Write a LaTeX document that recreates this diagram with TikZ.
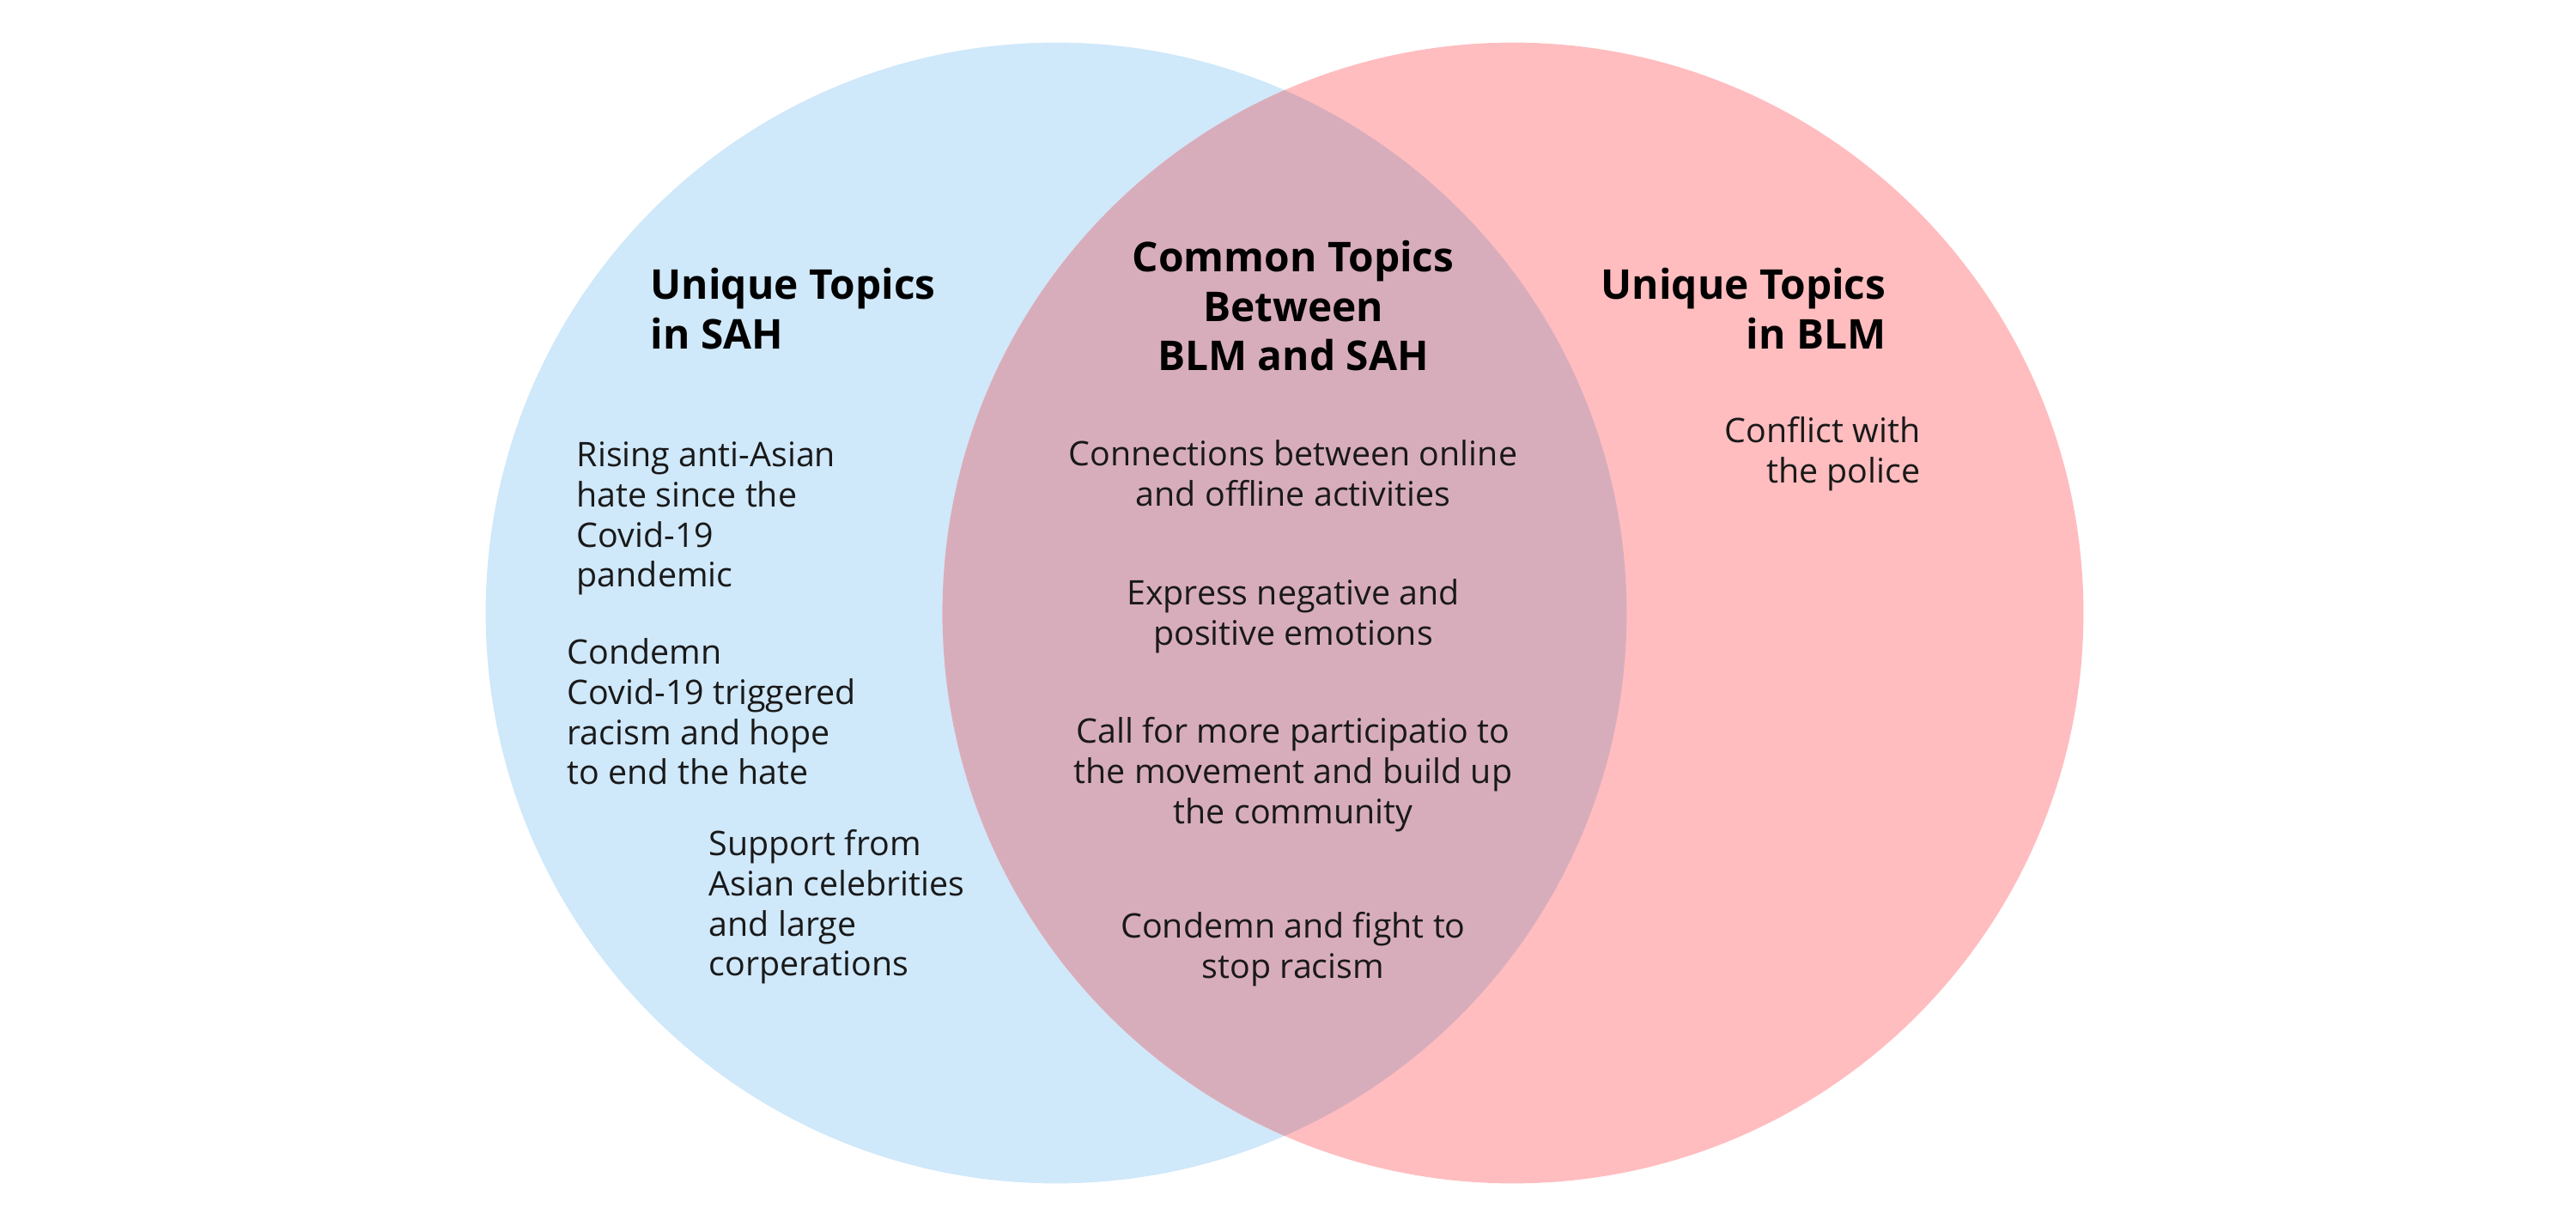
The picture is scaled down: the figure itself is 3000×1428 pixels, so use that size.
\documentclass[tikz,border=0pt]{standalone}
\usepackage{fontspec}
\setmainfont{Open Sans}
\definecolor{sahblue}{HTML}{CFE8FA}
\definecolor{blmred}{HTML}{FFBDBF}
\definecolor{overlap}{HTML}{D8ADBB}
\newcommand\bodystrut{\rule{0pt}{10pt}}
\newcommand\headstrut{\rule{0pt}{12pt}}
\begin{document}
\begin{tikzpicture}[x=0.01cm,y=-0.01cm,
  body/.style={inner sep=0pt,font=\fontsize{11.2}{13.28}\selectfont,text=black!90},
  head/.style={inner sep=0pt,font=\fontsize{13.6}{16.36}\selectfont\bfseries,text=black}]
\useasboundingbox (0,0) rectangle (3000,1428);
\fill[sahblue] (1230,714) circle (6.64cm);
\fill[blmred] (1762,714) circle (6.64cm);
\begin{scope}
  \clip (1230,714) circle (6.64cm);
  \fill[overlap] (1762,714) circle (6.64cm);
\end{scope}
% left
\node[head,anchor=north west,align=left] (lt) at (757,306) {\headstrut Unique Topics\\in SAH};
\node[body,anchor=north west,align=left] (l1) at (671,508) {\bodystrut Rising anti-Asian\\hate since the\\Covid-19\\pandemic};
\node[body,anchor=north west,align=left] (l2) at (660,738) {\bodystrut Condemn\\Covid-19 triggered\\racism and hope\\to end the hate};
\node[body,anchor=north west,align=left] (l3) at (825,961) {\bodystrut Support from\\Asian celebrities\\and large\\corperations};
% center
\node[head,anchor=north,align=center] (ct) at (1506,274) {\headstrut Common Topics\\Between\\BLM and SAH};
\node[body,anchor=north,align=center] (c1) at (1506,507) {\bodystrut Connections between online\\and offline activities};
\node[body,anchor=north,align=center] (c2) at (1506,669) {\bodystrut Express negative and\\positive emotions};
\node[body,anchor=north,align=center] (c3) at (1506,830) {\bodystrut Call for more participatio to\\the movement and build up\\the community};
\node[body,anchor=north,align=center] (c4) at (1506,1057) {\bodystrut Condemn and fight to\\stop racism};
% right
\node[head,anchor=north east,align=right] (rt) at (2197,306) {\headstrut Unique Topics\\in BLM};
\node[body,anchor=north east,align=right] (r1) at (2237,480) {\bodystrut Conflict with\\the police};
\end{tikzpicture}
\end{document}
